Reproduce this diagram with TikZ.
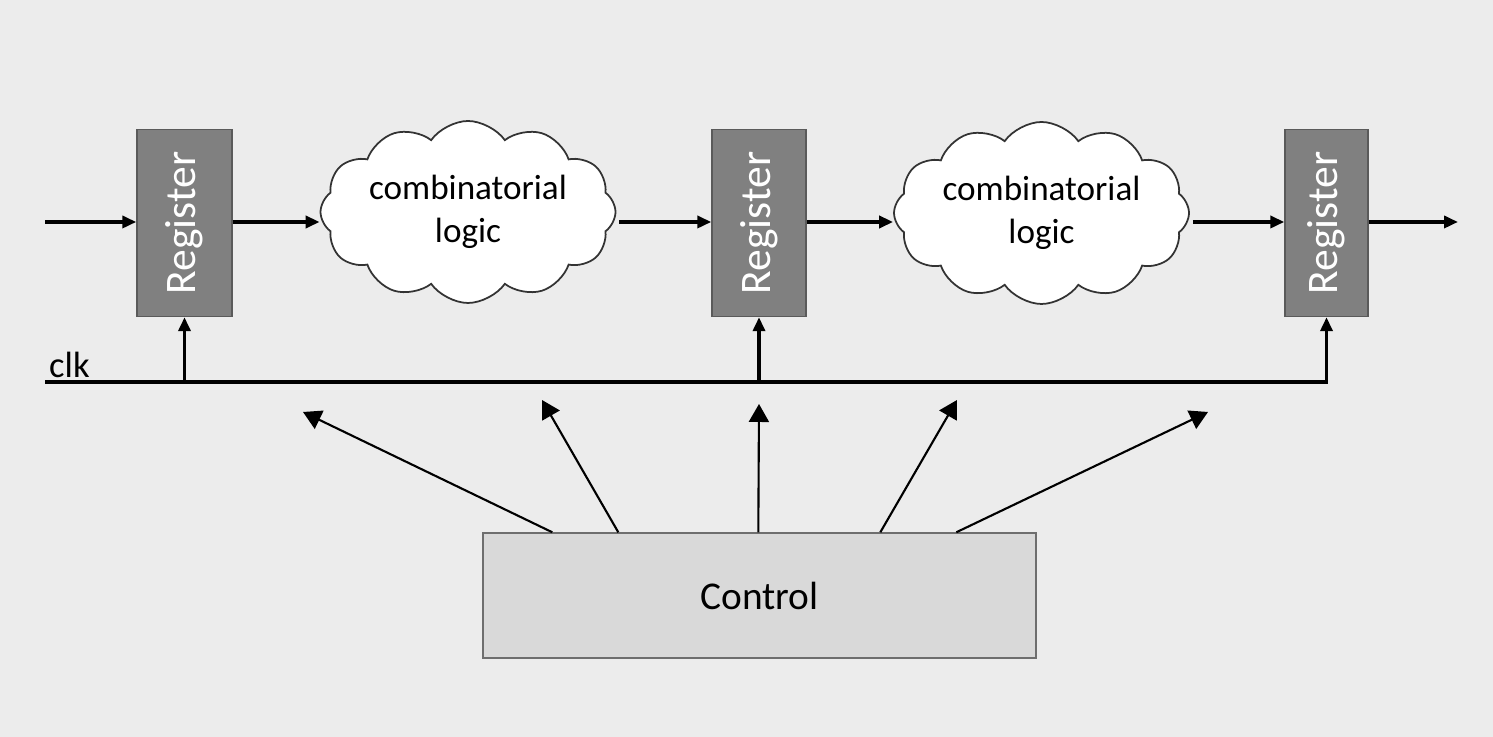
\documentclass[tikz,border=0pt]{standalone}
\usepackage{fontspec}
\setmainfont{Carlito}
\usetikzlibrary{positioning, shapes.symbols, arrows.meta}

\definecolor{backdrop}{RGB}{236,236,236}
\definecolor{regfill}{RGB}{128,128,128}
\definecolor{regline}{RGB}{90,90,90}
\definecolor{ctrlfill}{RGB}{217,217,217}
\definecolor{ctrlline}{RGB}{110,110,110}

\begin{document}
\begin{tikzpicture}[on grid,
    >={Triangle[length=0.14cm,width=0.12cm]},
    register/.style={draw=regline, fill=regfill, text=white, minimum width=0.95cm,
        minimum height=1.87cm, inner sep=0pt, font=\fontsize{12.4}{14}\selectfont},
    logic/.style={cloud, draw=black!80, fill=white, cloud puffs=12, cloud puff arc=110,
        cloud ignores aspect, minimum width=2.95cm, minimum height=1.82cm, inner sep=0pt,
        align=center, line width=0.5pt, font=\fontsize{10}{12.3}\selectfont},
    bus/.style={line width=1pt},
    ctrlarrow/.style={line width=0.6pt, -{Triangle[length=0.18cm,width=0.2cm]}}]

    \useasboundingbox[fill=backdrop] (0,0) rectangle (14.93,7.37);

    \node[register] (reg_1) at (1.845,5.14) {\rotatebox{90}{Register}};
    \node[logic] (logic_1) [right=2.835cm of reg_1, yshift=0.11cm] {combinatorial\\logic};
    \node[register, minimum width=0.94cm] (reg_2) [right=5.745cm of reg_1] {\rotatebox{90}{Register}};
    \node[logic] (logic_2) [right=2.825cm of reg_2, yshift=0.1cm] {combinatorial\\logic};
    \node[register, minimum width=0.83cm] (reg_3) [right=5.675cm of reg_2] {\rotatebox{90}{Register}};

    \node[draw=ctrlline, fill=ctrlfill, minimum width=5.53cm, minimum height=1.25cm,
        font=\fontsize{11.2}{13}\selectfont] (ctrl) at (7.595,1.415) {Control};

    \coordinate (in) at (0.45,5.15);
    \coordinate (out) at (14.58,5.15);
    \coordinate (clk) at (0.45,3.55);
    \node[anchor=south west, inner sep=1pt, font=\fontsize{10.4}{12}\selectfont] (clk_label) at (clk) {clk};

    % data path
    \draw[->, bus] (in) -- (in -| reg_1.west);
    \draw[->, bus] (reg_1.east |- in) -- (in -| logic_1.west);
    \draw[->, bus] ([xshift=0.03cm]logic_1.east |- in) -- (in -| reg_2.west);
    \draw[->, bus] (reg_2.east |- in) -- (in -| logic_2.west);
    \draw[->, bus] ([xshift=0.03cm]logic_2.east |- in) -- (in -| reg_3.west);
    \draw[->, bus] (reg_3.east |- in) -- (out);

    % clock
    \draw[->, bus] (clk) -| (reg_3.south);
    \draw[->, bus] (reg_1.south |- clk) -- (reg_1.south);
    \draw[->, bus] (reg_2.south |- clk) -- (reg_2.south);

    % control lines
    \coordinate (t_1) at (3.03,3.25);
    \coordinate (t_2) at (5.42,3.37);
    \coordinate (t_3) at (7.59,3.33);
    \coordinate (t_4) at (9.57,3.37);
    \coordinate (t_5) at (12.08,3.25);
    \path[ctrlarrow]
    ([xshift=0.70cm]ctrl.north west) edge (t_1)
    ([xshift=1.36cm]ctrl.north west) edge (t_2)
    ([xshift=2.76cm]ctrl.north west) edge (t_3)
    ([xshift=3.98cm]ctrl.north west) edge (t_4)
    ([xshift=4.74cm]ctrl.north west) edge (t_5);

\end{tikzpicture}
\end{document}
